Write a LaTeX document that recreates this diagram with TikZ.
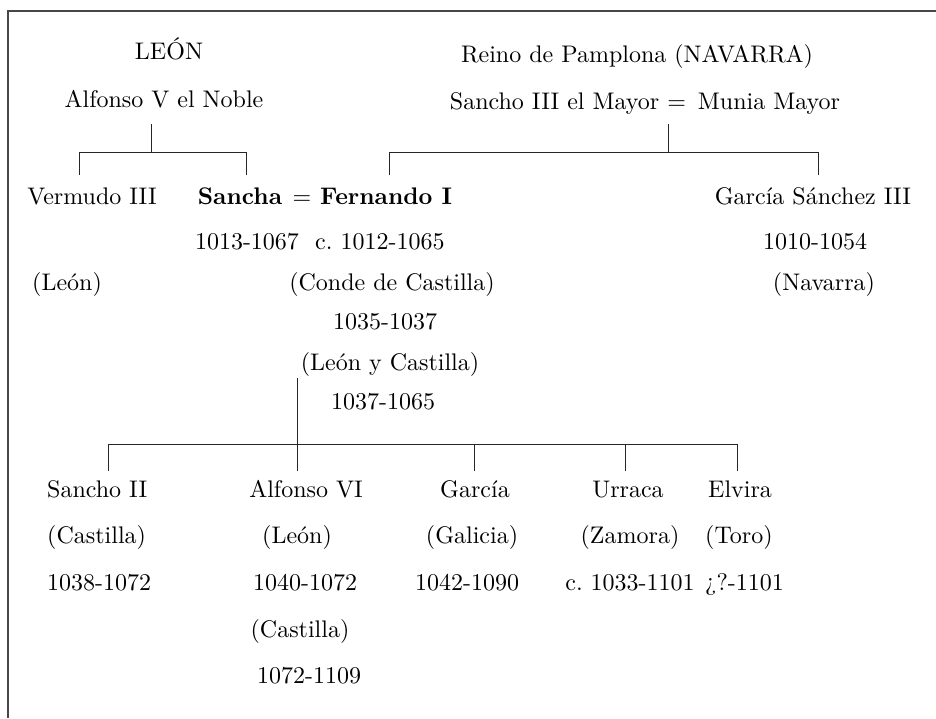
\documentclass[tikz,border=0pt]{standalone}
\usepackage{fontspec}
\setmainfont{lmroman10-regular.otf}[BoldFont=lmroman10-bold.otf]
\frenchspacing
\begin{document}
\begin{tikzpicture}[x=1pt,y=-1pt,
  lbl/.style={inner sep=0pt, anchor=base, font=\fontsize{24}{28}\selectfont},
  lblw/.style={lbl, anchor=base west},
  boldtxt/.style={font=\fontsize{24}{28}\selectfont\bfseries},
  tree/.style={line width=1pt, black!85},
  frame/.style={line width=1.8pt, black!72}]
\useasboundingbox (0,0) rectangle (936,718);
% frame
\coordinate (ftop) at (936,11);
\coordinate (fcorner) at (8,11);
\coordinate (fbot) at (8,718);
\draw[frame] (ftop) -- (fcorner) -- (fbot);

% top headings
\node[lbl] (leon) at (169,59) {LEÓN};
\node[lbl] (alf5) at (164,107) {Alfonso V el Noble};
\node[lbl] (reino) at (637,62) {Reino de Pamplona (NAVARRA)};
\node[lbl] (sancho3) at (645,109) {Sancho III el Mayor =\hspace{0.5em}Munia Mayor};

% second generation
\node[lbl] (verm) at (92,204) {Vermudo III};
\node[lbl,boldtxt] (sancha) at (240,204) {Sancha};
\node[lbl] (eq) at (302,204) {=};
\node[lblw,boldtxt] (fern) at (320,204) {Fernando I};
\node[lbl] (garsan) at (813,204) {García Sánchez III};

\node[lbl] (sanchad) at (247,249) {1013-1067};
\node[lblw] (fernd) at (315,249) {c. 1012-1065};
\node[lbl] (garsand) at (815,249) {1010-1054};

\node[lbl] (vermr) at (67,290) {(León)};
\node[lbl] (fernr1) at (392,290) {(Conde de Castilla)};
\node[lbl] (garsanr) at (824,290) {(Navarra)};
\node[lbl] (fernd1) at (385,329) {1035-1037};
\node[lbl] (fernr2) at (390,370) {(León y Castilla)};
\node[lbl] (fernd2) at (383,409) {1037-1065};

% children
\node[lblw] (s2) at (47,497) {Sancho II};
\node[lblw] (s2r) at (47,543) {(Castilla)};
\node[lblw] (s2d) at (47,590) {1038-1072};

\node[lbl] (a6) at (306,497) {Alfonso VI};
\node[lbl] (a6r1) at (297,543) {(León)};
\node[lbl] (a6d1) at (305,590) {1040-1072};
\node[lbl] (a6r2) at (300,637) {(Castilla)};
\node[lbl] (a6d2) at (309,683) {1072-1109};

\node[lbl] (gar) at (475,497) {García};
\node[lbl] (garr) at (472,543) {(Galicia)};
\node[lbl] (gard) at (467,590) {1042-1090};

\node[lbl] (urr) at (628,497) {Urraca};
\node[lbl] (urrr) at (630,543) {(Zamora)};
\node[lbl] (urrd) at (630,590) {c. 1033-1101};

\node[lblw] (elv) at (708,497) {Elvira};
\node[lblw] (elvr) at (705,543) {(Toro)};
\node[lblw] (elvd) at (705,590) {¿?-1101};

% tree: Alfonso V
\coordinate (aTop) at (151,124);
\coordinate (aJ) at (151,152);
\coordinate (aL) at (79,175);
\coordinate (aR) at (246,175);
\draw[tree] (aTop) -- (aJ);
\draw[tree] (aL) -- (aL|-aJ) -- (aR|-aJ) -- (aR);

% tree: Sancho III
\coordinate (nTop) at (668,124);
\coordinate (nJ) at (668,152);
\coordinate (nL) at (389,175);
\coordinate (nR) at (818,175);
\draw[tree] (nTop) -- (nJ);
\draw[tree] (nL) -- (nL|-nJ) -- (nR|-nJ) -- (nR);

% tree: Fernando I
\coordinate (fTop) at (297,378);
\coordinate (fJ) at (297,444);
\coordinate (c1) at (108,471);
\coordinate (c2) at (297,471);
\coordinate (c3) at (474,471);
\coordinate (c4) at (625,471);
\coordinate (c5) at (737,471);
\draw[tree] (fTop) -- (fJ);
\draw[tree] (c1) -- (c1|-fJ) -- (c5|-fJ) -- (c5);
\draw[tree] (fJ) -- (c2);
\draw[tree] (c3|-fJ) -- (c3);
\draw[tree] (c4|-fJ) -- (c4);
\end{tikzpicture}
\end{document}
